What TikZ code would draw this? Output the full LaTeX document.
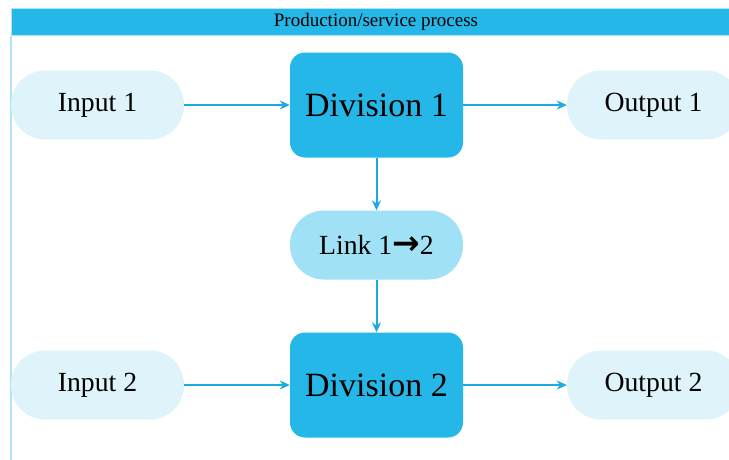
\documentclass[tikz,border=0pt]{standalone}
\usepackage{fontspec}
\setmainfont{Liberation Serif}
\newfontfamily\arrowfont{DejaVu Sans}
\usetikzlibrary{arrows.meta}

\definecolor{divblue}{HTML}{25B7E8}
\definecolor{linkblue}{HTML}{A0E1F6}
\definecolor{paleblue}{HTML}{DFF3FB}
\definecolor{arrowblue}{HTML}{1FAADF}
\definecolor{framecol}{HTML}{B3E4F6}

\begin{document}
\begin{tikzpicture}[
		x=1pt, y=-1pt,
		node distance=140pt,
		>={Stealth[length=10pt, width=9pt]},
		every node/.style={inner sep=0pt, align=center},
		division/.style={fill=divblue, rounded corners=15pt, minimum width=173pt, minimum height=105pt, font=\fontsize{34}{40}\selectfont},
		pill/.style={rounded corners=34pt, minimum width=173pt, minimum height=69pt, font=\fontsize{27.7}{32}\selectfont},
		flow/.style={->, draw=arrowblue, line width=2pt}
		]
		\useasboundingbox (0,0) rectangle (729,459);
		\clip (0,0) rectangle (729,459);

		% Header and frame
		\node[fill=divblue, draw=framecol, line width=1pt, minimum width=730pt, minimum height=27pt, font=\fontsize{19}{22}\selectfont] (header) at (376,21.5) {Production/service process};
		\draw[framecol, line width=2pt] (header.south west) -- ++(0,440);

		% Divisions
		\node[division] (div1) at (376.5,105) {Division 1};
		\node[pill, fill=linkblue, below of=div1] (link12) {Link 1{\arrowfont\bfseries\fontsize{33}{32}\selectfont →}2};
		\node[division, below of=link12] (div2) {Division 2};

		% Inputs and outputs
		\node[pill, fill=paleblue, left of=div1, node distance=279pt] (in1) {Input 1};
		\node[pill, fill=paleblue, right of=div1, node distance=277pt] (out1) {Output 1};
		\node[pill, fill=paleblue, left of=div2, node distance=279pt] (in2) {Input 2};
		\node[pill, fill=paleblue, right of=div2, node distance=277pt] (out2) {Output 2};

		% Arrows
		\draw[flow] (in1) -- (div1);
		\draw[flow] (div1) -- (out1);
		\draw[flow] (div1) -- (link12);
		\draw[flow] (link12) -- (div2);
		\draw[flow] (in2) -- (div2);
		\draw[flow] (div2) -- (out2);
	\end{tikzpicture}
\end{document}
